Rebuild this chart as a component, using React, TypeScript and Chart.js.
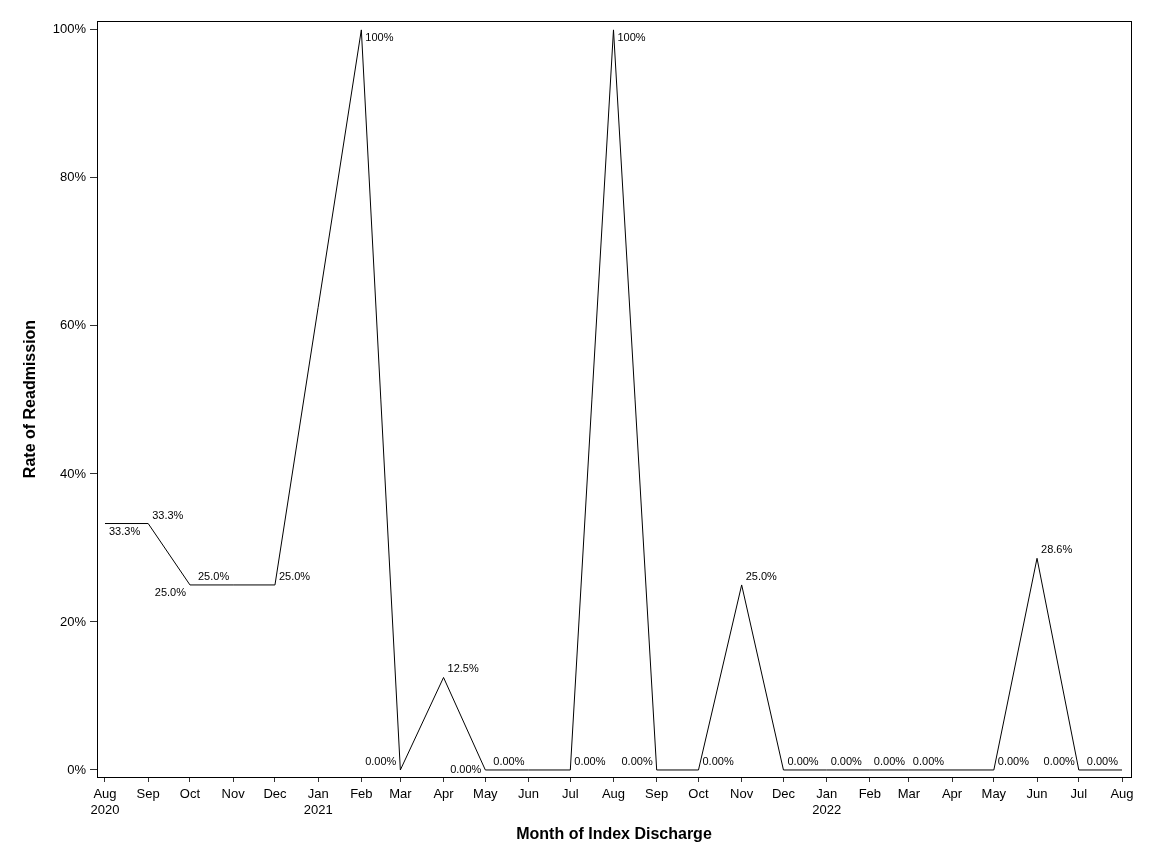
import { useEffect, useRef } from 'react';
import { Chart, registerables } from 'chart.js';

Chart.register(...registerables);

// ---- data ----
const dischargeMonths = [
  '2020-08', '2020-09', '2020-10', '2020-11', '2020-12', '2021-02', '2021-03', '2021-04',
  '2021-05', '2021-06', '2021-07', '2021-08', '2021-09', '2021-10', '2021-11', '2021-12',
  '2022-01', '2022-02', '2022-03', '2022-05', '2022-06', '2022-07', '2022-08',
];
const readmissionRates = [
  33.3, 33.3, 25.0, 25.0, 25.0, 100, 0, 12.5,
  0, 0, 0, 100, 0, 0, 25.0, 0,
  0, 0, 0, 0, 28.6, 0, 0,
];
const tickMonths = [
  '2020-08', '2020-09', '2020-10', '2020-11', '2020-12', '2021-01', '2021-02', '2021-03',
  '2021-04', '2021-05', '2021-06', '2021-07', '2021-08', '2021-09', '2021-10', '2021-11',
  '2021-12', '2022-01', '2022-02', '2022-03', '2022-04', '2022-05', '2022-06', '2022-07', '2022-08',
];
const monthAbbr = ['Jan', 'Feb', 'Mar', 'Apr', 'May', 'Jun', 'Jul', 'Aug', 'Sep', 'Oct', 'Nov', 'Dec'];
const yTicks = [0, 20, 40, 60, 80, 100];
const xTitle = 'Month of Index Discharge';
const yTitle = 'Rate of Readmission';

// label placement per point (style, not data)
const labelAnchors = [
  'dr', 'ur', 'dl', 'ul', 'ur', 'dr', 'ul', 'ur',
  'ml', 'ul', 'ur', 'dr', 'ul', 'ur', 'ur', 'ur',
  'ur', 'ur', 'ur', 'ur', 'ur', 'ul', 'ul',
];

const FONT = "'Liberation Sans', Arial, sans-serif";

const dayOf = (ym: string) => {
  const [y, m] = ym.split('-').map(Number);
  return Date.UTC(y, m - 1, 1) / 86400000;
};

const fmtPct = (v: number) => (v === 0 ? '0.00' : v.toPrecision(3)) + '%';

export default function App() {
  const ref = useRef<HTMLCanvasElement>(null);

  useEffect(() => {
    if (!ref.current) return;

    const labelPlugin = {
      id: 'sasDecor',
      afterDatasetsDraw(chart: any) {
        const ctx = chart.ctx;
        const meta = chart.getDatasetMeta(0);
        ctx.save();
        ctx.font = `11px ${FONT}`;
        ctx.fillStyle = '#000';
        ctx.textBaseline = 'middle';
        meta.data.forEach((pt: any, i: number) => {
          const a = labelAnchors[i];
          const txt = fmtPct(readmissionRates[i]);
          const right = a[1] === 'r';
          ctx.textAlign = right ? 'left' : 'right';
          const x = pt.x + (right ? 4 : -4);
          const dy = a[0] === 'u' ? -8 : a[0] === 'd' ? 8 : 0;
          ctx.fillText(txt, x, pt.y + dy);
        });
        ctx.restore();
      },
      afterDraw(chart: any) {
        const ctx = chart.ctx;
        const ca = chart.chartArea;
        ctx.save();
        ctx.strokeStyle = '#000';
        ctx.lineWidth = 1;
        ctx.strokeRect(Math.round(ca.left) + 0.5, Math.round(ca.top) + 0.5,
          Math.round(ca.right - ca.left), Math.round(ca.bottom - ca.top));
        ctx.fillStyle = '#000';
        ctx.font = `bold 16px ${FONT}`;
        ctx.textAlign = 'center';
        ctx.textBaseline = 'middle';
        ctx.fillText(xTitle, (ca.left + ca.right) / 2, 835);
        ctx.translate(31, (ca.top + ca.bottom) / 2);
        ctx.rotate(-Math.PI / 2);
        ctx.fillText(yTitle, 0, 0);
        ctx.restore();
      },
    };

    const firstDay = dayOf(tickMonths[0]);
    const lastDay = dayOf(tickMonths[tickMonths.length - 1]);

    const chart = new Chart(ref.current, {
      type: 'line',
      data: {
        datasets: [
          {
            data: dischargeMonths.map((m, i) => ({ x: dayOf(m), y: readmissionRates[i] })),
            borderColor: '#000',
            borderWidth: 1,
            pointRadius: 0,
            tension: 0,
            fill: false,
          },
        ],
      },
      options: {
        animation: false,
        responsive: false,
        devicePixelRatio: 1,
        layout: { padding: { top: 21, right: 21, left: 0, bottom: 0 } },
        plugins: { legend: { display: false }, tooltip: { enabled: false } },
        scales: {
          x: {
            type: 'linear',
            min: firstDay - 5.74,
            max: lastDay + 6.46,
            afterBuildTicks: (s: any) => {
              s.ticks = tickMonths.map((m) => ({ value: dayOf(m) }));
            },
            afterFit: (s: any) => {
              s.height = 87;
            },
            ticks: {
              autoSkip: false,
              maxRotation: 0,
              padding: 5,
              color: '#000',
              font: { family: FONT, size: 13 },
              callback: (value: any) => {
                const idx = tickMonths.findIndex((m) => dayOf(m) === value);
                if (idx < 0) return '';
                const [y, mo] = tickMonths[idx].split('-').map(Number);
                const ab = monthAbbr[mo - 1];
                return idx === 0 || mo === 1 ? [ab, String(y)] : ab;
              },
            },
            grid: { drawOnChartArea: false, drawTicks: true, tickLength: 5, color: '#333' },
            border: { display: true, color: '#000' },
          },
          y: {
            type: 'linear',
            min: -0.95,
            max: 101.2,
            afterBuildTicks: (s: any) => {
              s.ticks = yTicks.map((v) => ({ value: v }));
            },
            afterFit: (s: any) => {
              s.width = 97;
            },
            ticks: {
              padding: 4,
              color: '#000',
              font: { family: FONT, size: 13 },
              callback: (v: any) => `${v}%`,
            },
            grid: { drawOnChartArea: false, drawTicks: true, tickLength: 7, color: '#333' },
            border: { display: true, color: '#000' },
          },
        },
      },
      plugins: [labelPlugin],
    } as any);

    return () => chart.destroy();
  }, []);

  return (
    <div style={{ position: 'fixed', left: 0, top: 0, width: 1152, height: 864, background: '#fff' }}>
      <canvas ref={ref} width={1152} height={864} style={{ display: 'block' }} />
    </div>
  );
}
